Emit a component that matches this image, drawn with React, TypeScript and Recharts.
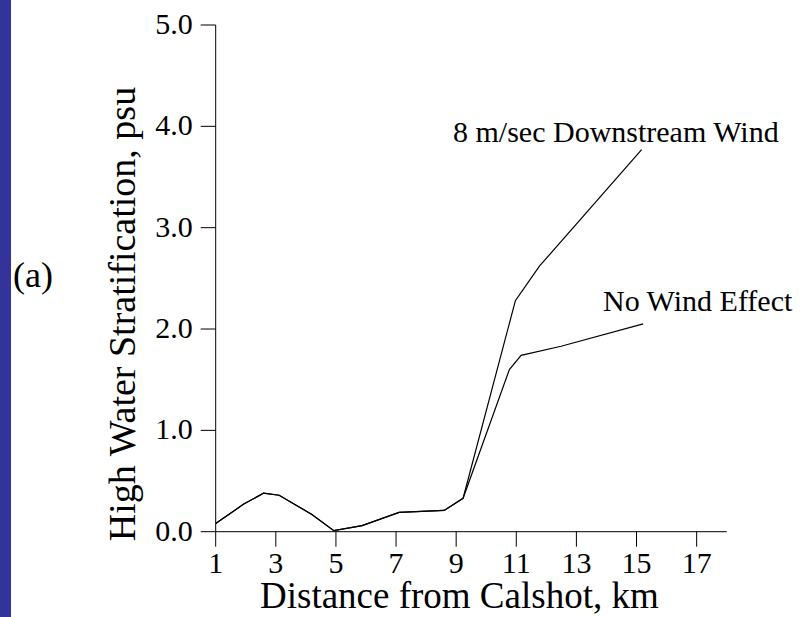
import React from "react";
import { LineChart, Line, XAxis, YAxis } from "recharts";

// shared part of both curves (km from Calshot, psu)
const sharedKm = [1.0, 1.92, 2.59, 3.11, 4.2, 4.93, 5.87, 7.1, 8.6, 9.23];
const sharedPsu = [0.08, 0.27, 0.38, 0.36, 0.17, 0.01, 0.06, 0.19, 0.21, 0.33];

// 8 m/sec downstream wind branch
const windKm = [10.97, 11.77, 15.17];
const windPsu = [2.28, 2.62, 3.77];

// no wind branch
const calmKm = [10.77, 11.16, 12.49, 15.22];
const calmPsu = [1.6, 1.74, 1.83, 2.05];

const xTicks = [1, 3, 5, 7, 9, 11, 13, 15, 17];
const yTicks = [0, 1, 2, 3, 4, 5];

const toPoints = (km: number[], psu: number[]) =>
  km.map((k, i) => ({ km: k, psu: psu[i] }));

const windData = toPoints([...sharedKm, ...windKm], [...sharedPsu, ...windPsu]);
const calmData = toPoints([...sharedKm, ...calmKm], [...sharedPsu, ...calmPsu]);

const SERIF = "'Liberation Serif', 'Times New Roman', serif";

function XTick(props: any) {
  const { x, y, payload } = props;
  return (
    <text x={x} y={y + 18} textAnchor="middle" fontSize={30} fontFamily={SERIF} fill="#000">
      {payload.value}
    </text>
  );
}

function YTick(props: any) {
  const { x, y, payload } = props;
  return (
    <text x={x - 1} y={y + 9} textAnchor="end" fontSize={30} fontFamily={SERIF} fill="#000">
      {Number(payload.value).toFixed(1)}
    </text>
  );
}

export default function App() {
  return (
    <div
      style={{
        position: "absolute",
        left: 0,
        top: 0,
        width: 800,
        height: 617,
        background: "#fff",
        fontFamily: SERIF,
      }}
    >
      <div
        style={{
          position: "absolute",
          left: 0,
          top: 0,
          width: 11,
          height: 617,
          background: "#333399",
        }}
      />
      <LineChart
        width={800}
        height={617}
        margin={{ top: 25, right: 73.3, left: 155.7, bottom: 45.3 }}
      >
        <XAxis
          dataKey="km"
          type="number"
          domain={[1, 18]}
          ticks={xTicks}
          allowDataOverflow
          height={40}
          tickSize={15}
          tickMargin={8}
          stroke="#000"
          tick={<XTick />}
        />
        <YAxis
          type="number"
          domain={[0, 5]}
          ticks={yTicks}
          allowDataOverflow
          width={60}
          tickSize={15}
          tickMargin={7}
          stroke="#000"
          tick={<YTick />}
        />
        <Line
          data={windData}
          dataKey="psu"
          type="linear"
          stroke="#000"
          strokeWidth={1.2}
          dot={false}
          isAnimationActive={false}
        />
        <Line
          data={calmData}
          dataKey="psu"
          type="linear"
          stroke="#000"
          strokeWidth={1.2}
          dot={false}
          isAnimationActive={false}
        />
        <text x={453} y={142} fontSize={30} fontFamily={SERIF} fill="#000">
          8 m/sec Downstream Wind
        </text>
        <text x={603} y={311} fontSize={30} fontFamily={SERIF} fill="#000">
          No Wind Effect
        </text>
        <text x={260} y={608} fontSize={37} fontFamily={SERIF} fill="#000">
          Distance from Calshot, km
        </text>
        <text
          x={135}
          y={314}
          fontSize={38}
          fontFamily={SERIF}
          fill="#000"
          textAnchor="middle"
          transform="rotate(-90, 135, 314)"
        >
          High Water Stratification, psu
        </text>
        <text x={13} y={287} fontSize={36} fontFamily={SERIF} fill="#000">
          (a)
        </text>
      </LineChart>
    </div>
  );
}
